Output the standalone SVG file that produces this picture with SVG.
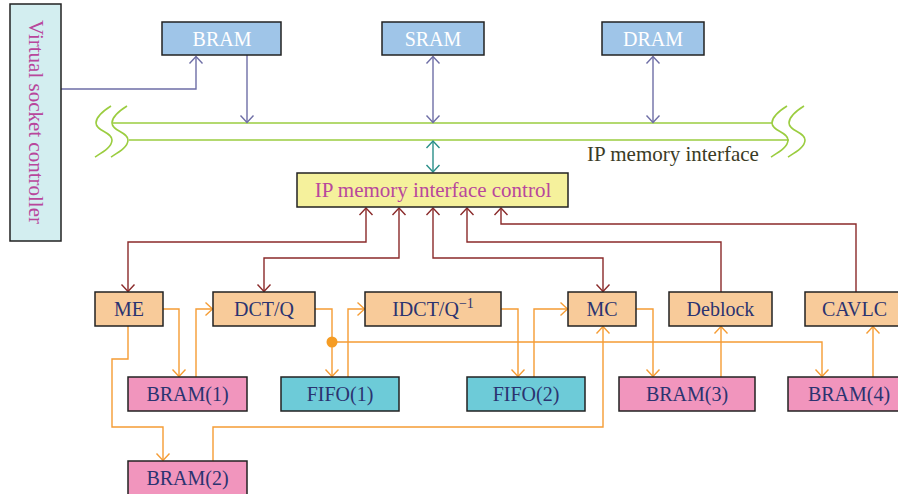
<svg xmlns="http://www.w3.org/2000/svg" width="898" height="494" viewBox="0 0 898 494">
  <style>
    text { font-family: "Liberation Serif", "Times New Roman", serif; }
    .box { stroke: #222; stroke-width: 1.5; }
    .mem { fill: #9fc5e8; }
    .ctl { fill: #f5f19c; }
    .blk { fill: #f8cb9a; }
    .bram { fill: #f195bd; }
    .fifo { fill: #6dcbd8; }
    .lbl { font-size: 20px; fill: #2b3370; text-anchor: middle; }
    .wlbl { font-size: 20px; fill: #ffffff; text-anchor: middle; }
    .plbl { font-size: 21px; fill: #b8479c; text-anchor: middle; }
    .w { fill: none; stroke-width: 1.4; }
    .pur { stroke: #6e6ea6; }
    .teal { stroke: #2a8f88; }
    .mar { stroke: #8a2a2a; }
    .org { stroke: #f59c34; }
    .bus { fill: none; stroke: #9bcd40; stroke-width: 1.6; }
  </style>
  <defs>
    <marker id="ah-pur" viewBox="-8 -8 16 16" markerWidth="16" markerHeight="16" markerUnits="userSpaceOnUse" orient="auto-start-reverse">
      <path d="M-7,-6.5 L0,0 L-7,6.5" fill="none" stroke="#6e6ea6" stroke-width="1.4"/>
    </marker>
    <marker id="ah-teal" viewBox="-8 -8 16 16" markerWidth="16" markerHeight="16" markerUnits="userSpaceOnUse" orient="auto-start-reverse">
      <path d="M-7,-6.5 L0,0 L-7,6.5" fill="none" stroke="#2a8f88" stroke-width="1.4"/>
    </marker>
    <marker id="ah-mar" viewBox="-8 -8 16 16" markerWidth="16" markerHeight="16" markerUnits="userSpaceOnUse" orient="auto-start-reverse">
      <path d="M-7,-6.5 L0,0 L-7,6.5" fill="none" stroke="#8a2a2a" stroke-width="1.4"/>
    </marker>
    <marker id="ah-org" viewBox="-8 -8 16 16" markerWidth="16" markerHeight="16" markerUnits="userSpaceOnUse" orient="auto-start-reverse">
      <path d="M-7,-6.5 L0,0 L-7,6.5" fill="none" stroke="#f59c34" stroke-width="1.4"/>
    </marker>
  </defs>

  <!-- memory bus with break marks -->
  <g id="bus">
    <path class="bus" d="M113,123 H772 M129,140 H789"/>
    <path class="bus" d="M111,106 C103,111 96,117 96,123 C96,131 112,132 112,140 C112,147 103,152 95,157"/>
    <path class="bus" d="M127,106 C119,111 112,117 112,123 C112,131 128,132 128,140 C128,147 119,152 111,157"/>
    <path class="bus" d="M787,106 C779,111 772,117 772,123 C772,131 788,132 788,140 C788,147 779,152 771,157"/>
    <path class="bus" d="M804,106 C796,111 789,117 789,123 C789,131 805,132 805,140 C805,147 796,152 788,157"/>
    <text x="673" y="161" font-size="21" fill="#3b3b25" text-anchor="middle">IP memory interface</text>
  </g>

  <!-- connectors -->
  <g id="connectors">
    <path class="w pur" d="M61,89 H196 V56.5" marker-end="url(#ah-pur)"/>
    <path class="w pur" d="M247,55 V122.5" marker-end="url(#ah-pur)"/>
    <path class="w pur" d="M433,56.5 V122.5" marker-start="url(#ah-pur)" marker-end="url(#ah-pur)"/>
    <path class="w pur" d="M653,56.5 V122.5" marker-start="url(#ah-pur)" marker-end="url(#ah-pur)"/>
    <path class="w teal" d="M433,141 V172" marker-start="url(#ah-teal)" marker-end="url(#ah-teal)"/>

    <path class="w mar" d="M366,208 V242 H128 V291.5" marker-start="url(#ah-mar)" marker-end="url(#ah-mar)"/>
    <path class="w mar" d="M399,208 V258 H264 V291.5" marker-start="url(#ah-mar)" marker-end="url(#ah-mar)"/>
    <path class="w mar" d="M433,208 V258 H603 V291.5" marker-start="url(#ah-mar)" marker-end="url(#ah-mar)"/>
    <path class="w mar" d="M467,208 V242 H721 V292" marker-start="url(#ah-mar)"/>
    <path class="w mar" d="M501,208 V224 H856 V292" marker-start="url(#ah-mar)"/>

    <path class="w org" d="M163,309 H179 V376.5" marker-end="url(#ah-org)"/>
    <path class="w org" d="M196,377 V309 H212.5" marker-end="url(#ah-org)"/>
    <path class="w org" d="M128,326 V359 H112 V427 H163 V460.5" marker-end="url(#ah-org)"/>
    <path class="w org" d="M213,461 V427 H603 V326.5" marker-end="url(#ah-org)"/>
    <path class="w org" d="M315,309 H332 V376.5" marker-end="url(#ah-org)"/>
    <path class="w org" d="M332,342 H822 V376.5" marker-end="url(#ah-org)"/>
    <circle cx="332" cy="342" r="5.5" fill="#f59c24"/>
    <path class="w org" d="M348,377 V309 H364.5" marker-end="url(#ah-org)"/>
    <path class="w org" d="M501,309 H518 V376.5" marker-end="url(#ah-org)"/>
    <path class="w org" d="M534,377 V309 H567.5" marker-end="url(#ah-org)"/>
    <path class="w org" d="M636,309 H653 V376.5" marker-end="url(#ah-org)"/>
    <path class="w org" d="M721,377 V326.5" marker-end="url(#ah-org)"/>
    <path class="w org" d="M873,377 V326.5" marker-end="url(#ah-org)"/>
  </g>

  <g id="vsc">
    <rect class="box" x="10" y="4" width="51" height="237" fill="#d3eef0"/>
    <text class="plbl" transform="translate(28.5,122) rotate(90)">Virtual socket controller</text>
  </g>

  <g id="bram-top">
    <rect class="box mem" x="162" y="22" width="119" height="33"/>
    <text class="wlbl" x="222" y="46">BRAM</text>
  </g>
  <g id="sram">
    <rect class="box mem" x="382" y="22" width="102" height="33"/>
    <text class="wlbl" x="433" y="46">SRAM</text>
  </g>
  <g id="dram">
    <rect class="box mem" x="602" y="22" width="102" height="33"/>
    <text class="wlbl" x="653" y="46">DRAM</text>
  </g>

  <g id="ipmic">
    <rect class="box ctl" x="297" y="173" width="271" height="34"/>
    <text class="plbl" x="433" y="197">IP memory interface control</text>
  </g>

  <g id="me">
    <rect class="box blk" x="95" y="292" width="68" height="34"/>
    <text class="lbl" x="129" y="316">ME</text>
  </g>
  <g id="dctq">
    <rect class="box blk" x="213" y="292" width="102" height="34"/>
    <text class="lbl" x="264" y="316">DCT/Q</text>
  </g>
  <g id="idctq">
    <rect class="box blk" x="365" y="292" width="136" height="34"/>
    <text class="lbl" x="433" y="316">IDCT/Q<tspan font-size="14" dy="-8">−1</tspan></text>
  </g>
  <g id="mc">
    <rect class="box blk" x="568" y="292" width="68" height="34"/>
    <text class="lbl" x="602" y="316">MC</text>
  </g>
  <g id="deblock">
    <rect class="box blk" x="669" y="292" width="103" height="34"/>
    <text class="lbl" x="720.5" y="316">Deblock</text>
  </g>
  <g id="cavlc">
    <rect class="box blk" x="805" y="292" width="100" height="34"/>
    <text class="lbl" x="854.5" y="316">CAVLC</text>
  </g>

  <g id="bram1">
    <rect class="box bram" x="128" y="377" width="119" height="34"/>
    <text class="lbl" x="187.5" y="401">BRAM(1)</text>
  </g>
  <g id="fifo1">
    <rect class="box fifo" x="281" y="377" width="118" height="34"/>
    <text class="lbl" x="340" y="401">FIFO(1)</text>
  </g>
  <g id="fifo2">
    <rect class="box fifo" x="467" y="377" width="118" height="34"/>
    <text class="lbl" x="526" y="401">FIFO(2)</text>
  </g>
  <g id="bram3">
    <rect class="box bram" x="619" y="377" width="136" height="34"/>
    <text class="lbl" x="687" y="401">BRAM(3)</text>
  </g>
  <g id="bram4">
    <rect class="box bram" x="788" y="377" width="122" height="34"/>
    <text class="lbl" x="849" y="401">BRAM(4)</text>
  </g>
  <g id="bram2">
    <rect class="box bram" x="128" y="461" width="119" height="34"/>
    <text class="lbl" x="187.5" y="485">BRAM(2)</text>
  </g>
</svg>
